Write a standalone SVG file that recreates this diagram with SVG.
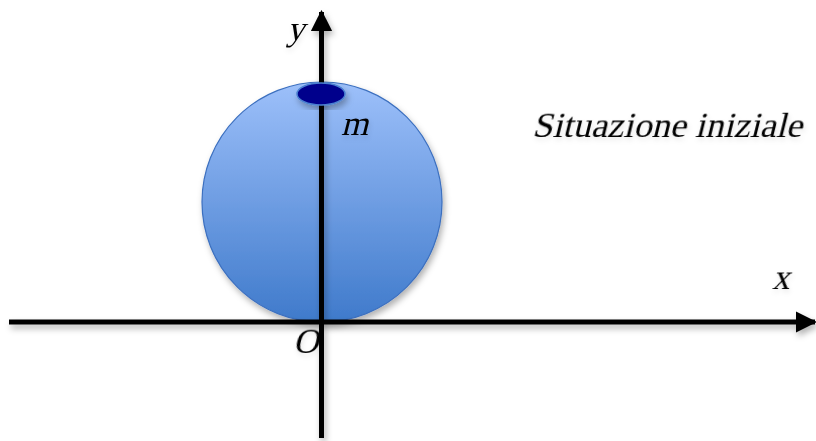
<svg xmlns="http://www.w3.org/2000/svg" width="816" height="441" viewBox="0 0 816 441">
<style>
.axis{stroke:#000;stroke-width:5;fill:none}
.lbl{font-family:'Liberation Serif','Times New Roman',serif;font-size:35px;fill:#000}
</style>
<defs>
<linearGradient id="g" x1="0" y1="0" x2="0" y2="1">
<stop offset="0" stop-color="#9dc0fa"/>
<stop offset="1" stop-color="#3f7acb"/>
</linearGradient>
<filter id="sh" x="-20%" y="-20%" width="140%" height="140%">
<feDropShadow dx="2" dy="4" stdDeviation="3" flood-color="#000" flood-opacity="0.3"/>
</filter>
<filter id="tsh" x="-10%" y="-30%" width="120%" height="160%">
<feDropShadow dx="1" dy="3" stdDeviation="2.5" flood-color="#000" flood-opacity="0.1"/>
</filter>
<marker id="ah" viewBox="0 0 10 10" refX="9" refY="5" markerWidth="4.3" markerHeight="4.3" orient="auto" markerUnits="strokeWidth">
<path d="M0,0 L10,5 L0,10 z" fill="#000"/>
</marker>
</defs>
<g id="sphere" filter="url(#sh)">
<circle cx="322" cy="202" r="120" fill="url(#g)" stroke="#3b6fbf" stroke-width="1.2"/>
</g>
<g id="connectors" filter="url(#sh)">
<line class="axis" x1="9" y1="322" x2="815" y2="322" marker-end="url(#ah)"/>
<line class="axis" x1="321.5" y1="438" x2="321.5" y2="12" marker-end="url(#ah)"/>
</g>
<g id="mass" filter="url(#sh)">
<ellipse cx="321" cy="94" rx="24" ry="11" fill="#00008c" stroke="#4a7fd0" stroke-width="1.5"/>
</g>
<g id="labels" filter="url(#tsh)">
<text class="lbl" transform="translate(287,40) skewX(-14)">y</text>
<text class="lbl" transform="translate(341,135) skewX(-14)">m</text>
<text class="lbl" transform="translate(532,137) skewX(-14)" textLength="270" lengthAdjust="spacingAndGlyphs">Situazione iniziale</text>
<text class="lbl" transform="translate(772,289) skewX(-14)">x</text>
<text class="lbl" transform="translate(293,353) skewX(-14)">O</text>
</g>
</svg>
